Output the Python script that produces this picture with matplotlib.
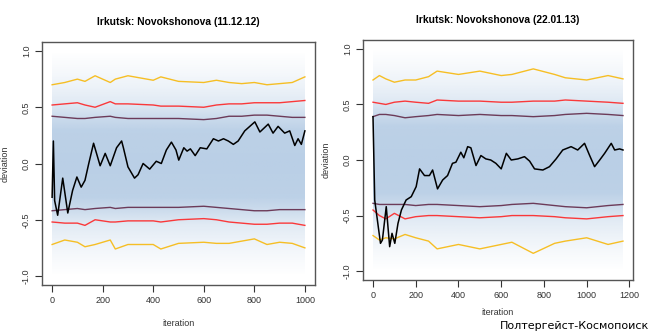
import numpy as np
import matplotlib.pyplot as plt
from matplotlib.colors import to_rgb

# ---- data ----
titles = ['Irkutsk: Novokshonova (11.12.12)', 'Irkutsk: Novokshonova (22.01.13)']
n_iter = [1000, 1170]

# left panel (11.12.12), observed walk
left_it = [0, 5, 10, 22, 42, 62, 81, 98, 115, 130, 145, 164, 190, 210, 230, 255, 275, 282,
           300, 326, 340, 360, 386, 412, 432, 452, 472, 490, 501, 521, 534, 547, 566, 586,
           612, 638, 658, 678, 697, 717, 736, 762, 802, 822, 855, 874, 894, 920, 940, 960,
           973, 986, 1000]
left_dev = [-0.30, 0.20, -0.33, -0.46, -0.13, -0.44, -0.24, -0.12, -0.21, -0.15, 0.00, 0.18,
            -0.02, 0.09, -0.02, 0.14, 0.20, 0.14, -0.03, -0.13, -0.10, 0.00, -0.05, 0.02,
            0.00, 0.12, 0.19, 0.12, 0.03, 0.14, 0.11, 0.13, 0.07, 0.14, 0.13, 0.22, 0.20,
            0.22, 0.20, 0.17, 0.20, 0.29, 0.37, 0.28, 0.35, 0.27, 0.33, 0.27, 0.29, 0.16,
            0.22, 0.17, 0.29]

# left panel quantile bands
left_band_it = [0, 50, 100, 130, 170, 230, 250, 300, 400, 430, 500, 600, 650, 700, 750, 800, 850, 900, 950, 1000]
left_yel_hi = [0.70, 0.72, 0.75, 0.73, 0.78, 0.72, 0.75, 0.78, 0.74, 0.77, 0.73, 0.72, 0.74, 0.72, 0.71, 0.72, 0.70, 0.71, 0.72, 0.77]
left_red_hi = [0.52, 0.53, 0.54, 0.52, 0.50, 0.55, 0.53, 0.53, 0.52, 0.51, 0.51, 0.50, 0.52, 0.53, 0.53, 0.54, 0.54, 0.54, 0.55, 0.56]
left_pur_hi = [0.42, 0.41, 0.40, 0.40, 0.41, 0.42, 0.41, 0.40, 0.40, 0.40, 0.40, 0.39, 0.40, 0.42, 0.42, 0.43, 0.43, 0.42, 0.41, 0.41]
left_pur_lo = [-0.42, -0.41, -0.40, -0.41, -0.40, -0.39, -0.40, -0.39, -0.39, -0.39, -0.39, -0.38, -0.39, -0.40, -0.41, -0.42, -0.42, -0.41, -0.41, -0.41]
left_red_lo = [-0.52, -0.53, -0.53, -0.55, -0.50, -0.52, -0.52, -0.51, -0.51, -0.52, -0.50, -0.49, -0.50, -0.52, -0.53, -0.54, -0.54, -0.53, -0.53, -0.55]
left_yel_lo = [-0.72, -0.68, -0.70, -0.74, -0.72, -0.68, -0.76, -0.72, -0.72, -0.76, -0.71, -0.70, -0.71, -0.71, -0.69, -0.67, -0.72, -0.70, -0.71, -0.75]

# right panel (22.01.13), observed walk
right_it = [0, 8, 35, 44, 62, 78, 89, 102, 117, 133, 155, 179, 202, 218, 241, 264, 279,
            302, 326, 349, 372, 388, 411, 425, 443, 458, 482, 505, 528, 551, 575, 600,
            624, 647, 678, 709, 733, 756, 795, 826, 857, 888, 927, 958, 990, 1014, 1037,
            1061, 1084, 1115, 1131, 1154, 1170]
right_dev = [0.39, -0.36, -0.75, -0.72, -0.42, -0.78, -0.66, -0.75, -0.57, -0.45, -0.36,
             -0.33, -0.24, -0.08, -0.14, -0.14, -0.09, -0.26, -0.18, -0.14, -0.03, -0.02,
             0.07, 0.02, 0.12, 0.11, -0.05, 0.04, 0.01, 0.00, -0.03, -0.08, 0.06, 0.00,
             0.01, 0.03, -0.01, -0.08, -0.09, -0.06, 0.01, 0.09, 0.12, 0.09, 0.15, 0.04,
             -0.06, 0.00, 0.06, 0.15, 0.09, 0.10, 0.09]

# right panel quantile bands
right_band_it = [0, 30, 60, 100, 150, 200, 260, 300, 400, 500, 600, 650, 750, 850, 900, 1000, 1100, 1170]
right_yel_hi = [0.72, 0.76, 0.73, 0.70, 0.72, 0.72, 0.75, 0.80, 0.77, 0.80, 0.76, 0.77, 0.82, 0.77, 0.74, 0.72, 0.76, 0.73]
right_red_hi = [0.52, 0.51, 0.50, 0.52, 0.53, 0.52, 0.51, 0.54, 0.53, 0.53, 0.52, 0.52, 0.53, 0.53, 0.54, 0.53, 0.52, 0.51]
right_pur_hi = [0.39, 0.41, 0.41, 0.40, 0.38, 0.39, 0.40, 0.41, 0.40, 0.41, 0.40, 0.40, 0.39, 0.40, 0.41, 0.42, 0.41, 0.40]
right_pur_lo = [-0.39, -0.40, -0.40, -0.40, -0.40, -0.41, -0.40, -0.40, -0.41, -0.42, -0.41, -0.40, -0.39, -0.41, -0.42, -0.43, -0.41, -0.40]
right_red_lo = [-0.45, -0.50, -0.53, -0.48, -0.53, -0.51, -0.50, -0.50, -0.51, -0.52, -0.51, -0.50, -0.50, -0.51, -0.52, -0.53, -0.51, -0.50]
right_yel_lo = [-0.68, -0.72, -0.70, -0.71, -0.67, -0.70, -0.73, -0.80, -0.76, -0.80, -0.76, -0.74, -0.84, -0.75, -0.73, -0.70, -0.76, -0.73]

# density profile of the simulated cloud (|deviation| -> opacity)
cloud_y = [0.0, 0.3, 0.42, 0.55, 0.7, 0.85, 1.0]
cloud_a = [0.52, 0.50, 0.38, 0.22, 0.13, 0.06, 0.0]

plt.rcParams['font.family'] = ['Liberation Sans', 'DejaVu Sans']

fig = plt.figure(figsize=(6.5, 3.32), dpi=100)
W, H = 650, 332
boxes = [(42, 42, 315, 285), (363, 40, 633, 280)]
xlabel_pads = [10, 6]

panels = [
    (left_it, left_dev, left_band_it, [left_yel_hi, left_red_hi, left_pur_hi, left_pur_lo, left_red_lo, left_yel_lo],
     [0, 200, 400, 600, 800, 1000]),
    (right_it, right_dev, right_band_it, [right_yel_hi, right_red_hi, right_pur_hi, right_pur_lo, right_red_lo, right_yel_lo],
     [0, 200, 400, 600, 800, 1000, 1200]),
]
band_colors = ['#f7b500', '#ff1a1a', '#5c1f3f', '#5c1f3f', '#ff1a1a', '#f7b500']

for k, (x0, y0, x1, y1) in enumerate(boxes):
    ax = fig.add_axes([x0 / W, 1 - y1 / H, (x1 - x0) / W, (y1 - y0) / H])
    it, dev, bit, bands, xt = panels[k]
    n = n_iter[k]

    # cloud of simulated walks as a vertical gradient
    yy = np.linspace(-1, 1, 200)
    alpha = np.interp(np.abs(yy), cloud_y, cloud_a)
    rgba = np.zeros((200, 2, 4))
    rgba[:, :, :3] = to_rgb('#7aa3cf')
    rgba[:, :, 3] = alpha[:, None]
    ax.imshow(rgba, extent=[0, n, -1, 1], origin='lower', aspect='auto',
              interpolation='bilinear', zorder=0)

    for b, c in zip(bands, band_colors):
        ax.plot(bit, b, color=c, lw=1.0, alpha=0.85, zorder=2)
    ax.plot(it, dev, color='black', lw=1.1, zorder=3)

    ax.set_xlim(-0.04 * n, 1.04 * n)
    ax.set_ylim(-1.08, 1.08)
    ax.set_xticks(xt)
    ax.set_yticks([-1.0, -0.5, 0.0, 0.5, 1.0])
    ax.set_yticklabels(['-1.0', '-0.5', '0.0', '0.5', '1.0'], rotation=90, va='center')
    ax.tick_params(labelsize=6.5, colors='#333333', length=5, width=0.8, pad=3)
    for s in ax.spines.values():
        s.set_color('#555555')
        s.set_linewidth(1.0)
    ax.set_title(titles[k], fontsize=7.4, fontweight='bold', pad=12)
    ax.set_xlabel('iteration', fontsize=6.5, labelpad=xlabel_pads[k], color='#333333')
    ax.set_ylabel('deviation', fontsize=6.5, labelpad=9, color='#333333')

# watermark
fig.text(0.999, 0.003, 'Полтергейст-Космопоиск', ha='right', va='bottom',
         fontsize=8, family='DejaVu Sans', color='black')

fig.savefig('out.png', dpi=100)
